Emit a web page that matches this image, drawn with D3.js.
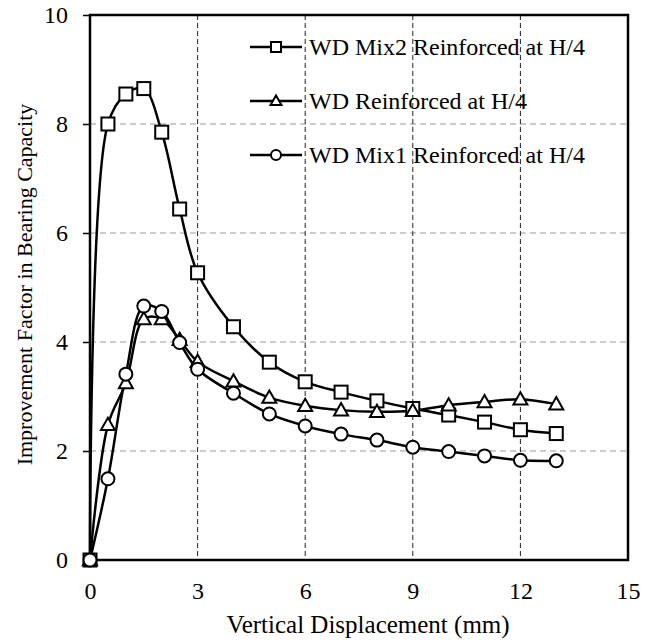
<!DOCTYPE html>
<html>
<head>
<meta charset="utf-8">
<script src="https://cdn.jsdelivr.net/npm/d3@7"></script>
<style>
  body { margin: 0; background: #fff; }
  text { font-family: "Liberation Serif", "DejaVu Serif", serif; }
</style>
</head>
<body>
<script>
// displacement (mm)
const xValues = [0, 0.5, 1, 1.5, 2, 2.5, 3, 4, 5, 6, 7, 8, 9, 10, 11, 12, 13];
// improvement factors
const mix2Values = [0, 8.0, 8.55, 8.65, 7.85, 6.44, 5.27, 4.28, 3.63, 3.27, 3.08, 2.92, 2.78, 2.66, 2.53, 2.39, 2.32];
const wdValues   = [0, 2.48, 3.25, 4.42, 4.42, 4.04, 3.64, 3.28, 2.98, 2.83, 2.75, 2.72, 2.74, 2.84, 2.90, 2.95, 2.86];
const mix1Values = [0, 1.49, 3.41, 4.66, 4.56, 3.99, 3.50, 3.06, 2.68, 2.46, 2.31, 2.20, 2.07, 1.99, 1.91, 1.83, 1.82];
const seriesNames = ["WD Mix2 Reinforced at H/4", "WD Reinforced at H/4", "WD Mix1 Reinforced at H/4"];
const xTicks = [0, 3, 6, 9, 12, 15];
const yTicks = [0, 2, 4, 6, 8, 10];

const margin = {top: 15, right: 29, bottom: 83, left: 90};
const width = 657 - margin.left - margin.right;
const height = 643 - margin.top - margin.bottom;

const svg = d3.select("body").append("svg")
  .attr("width", 657)
  .attr("height", 643)
  .append("g")
  .attr("transform", `translate(${margin.left}, ${margin.top})`);

const x = d3.scaleLinear().domain([0, 15]).range([0, width]);
const y = d3.scaleLinear().domain([0, 10]).range([height, 0]);

// grid lines
svg.append("g").selectAll("line")
  .data(yTicks.slice(1, -1))
  .join("line")
  .attr("x1", 0).attr("x2", width)
  .attr("y1", d => y(d)).attr("y2", d => y(d))
  .attr("stroke", "#999").attr("stroke-width", 1.2)
  .attr("stroke-dasharray", "6,4");
svg.append("g").selectAll("line")
  .data(xTicks.slice(1, -1))
  .join("line")
  .attr("x1", d => x(d)).attr("x2", d => x(d))
  .attr("y1", 0).attr("y2", height)
  .attr("stroke", "#222").attr("stroke-width", 1)
  .attr("stroke-dasharray", "5,3");

// axes
const axeX = d3.axisBottom(x).tickValues(xTicks).tickSize(0).tickPadding(22);
const axeY = d3.axisLeft(y).tickValues(yTicks).tickSize(7).tickPadding(15);
const groupeX = svg.append("g").attr("transform", `translate(0, ${height})`).call(axeX);
const groupeY = svg.append("g").call(axeY);
[groupeX, groupeY].forEach(g => {
  g.select(".domain").remove();
  g.selectAll("text").style("font-size", "24px").style("font-family", "Liberation Serif").attr("fill", "#000");
  g.selectAll("line").attr("stroke", "#000").attr("stroke-width", 1.5);
});

// frame
svg.append("rect")
  .attr("width", width).attr("height", height)
  .attr("fill", "none").attr("stroke", "#000").attr("stroke-width", 2.5);

// series
const series = [mix2Values, wdValues, mix1Values].map((vals, i) => ({
  name: seriesNames[i],
  shape: ["square", "triangle", "circle"][i],
  points: xValues.map((d, j) => ({x: d, y: vals[j]}))
}));

const line = d3.line()
  .x(d => x(d.x)).y(d => y(d.y))
  .curve(d3.curveCatmullRom.alpha(0.5));

function marker(g, shape, s) {
  if (shape === "square") {
    g.append("rect").attr("x", -s / 2).attr("y", -s / 2).attr("width", s).attr("height", s);
  } else if (shape === "triangle") {
    const h = s * 0.9;
    g.append("path").attr("d", `M0,${-h * 0.6}L${s / 2 + 0.5},${h * 0.45}L${-s / 2 - 0.5},${h * 0.45}Z`);
  } else {
    g.append("circle").attr("r", s / 2);
  }
  g.selectAll("*").attr("fill", "#fff").attr("stroke", "#000").attr("stroke-width", 2);
}

series.forEach(s => {
  svg.append("path")
    .attr("d", line(s.points))
    .attr("fill", "none").attr("stroke", "#000").attr("stroke-width", 2.5);
});
series.forEach(s => {
  svg.append("g").selectAll("g")
    .data(s.points)
    .join("g")
    .attr("transform", d => `translate(${x(d.x)}, ${y(d.y)})`)
    .each(function() { marker(d3.select(this), s.shape, 13); });
});

// legend
const legend = svg.append("g").attr("transform", "translate(160, 32)");
series.forEach((s, i) => {
  const row = legend.append("g").attr("transform", `translate(0, ${i * 54})`);
  row.append("line").attr("x1", 0).attr("x2", 52)
    .attr("stroke", "#000").attr("stroke-width", 2.5);
  marker(row.append("g").attr("transform", "translate(26, 0)"), s.shape, 10);
  row.append("text").attr("x", 59).attr("y", 8)
    .style("font-size", "24px").text(s.name);
});

// axis titles
svg.append("text")
  .attr("x", width / 2 + 9).attr("y", height + 73)
  .attr("text-anchor", "middle").style("font-size", "25px")
  .text("Vertical Displacement (mm)");
svg.append("text")
  .attr("transform", `translate(-58, ${height / 2 - 3}) rotate(-90)`)
  .attr("text-anchor", "middle").style("font-size", "22px")
  .text("Improvement Factor in Bearing Capacity");
</script>
</body>
</html>
